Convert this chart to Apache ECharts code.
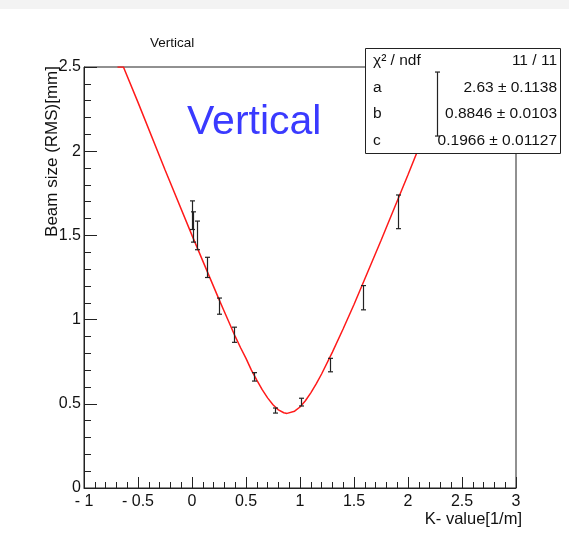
<!DOCTYPE html>
<html>
<head>
<meta charset="utf-8">
<script src="https://cdn.jsdelivr.net/npm/echarts@6/dist/echarts.min.js"></script>
<style>
	html, body { margin: 0; padding: 0; background: #fff; }
	#chart { width: 569px; height: 542px; }
</style>
</head>
<body>
<div id="chart"></div>
<script>
	// measured points (K value, beam size, error)
	var pointK = [0.00, 0.01, 0.05, 0.14, 0.25, 0.39, 0.57, 0.77, 1.01, 1.28, 1.58, 1.91, 2.27];
	var pointSigma = [1.62, 1.55, 1.50, 1.31, 1.08, 0.91, 0.66, 0.46, 0.51, 0.73, 1.13, 1.64, 2.28];
	var pointErr = [0.085, 0.09, 0.085, 0.06, 0.048, 0.045, 0.025, 0.015, 0.023, 0.04, 0.072, 0.10, 0.19];

	// fitted curve
	var curveK = [-0.69, -0.635, -0.5, -0.25, 0, 0.25, 0.3, 0.4, 0.45, 0.5, 0.55, 0.6, 0.65, 0.7, 0.75, 0.8, 0.85, 0.88, 0.95, 1.0, 1.05, 1.1, 1.15, 1.2, 1.3, 1.4, 1.5, 1.75, 2.0, 2.2, 2.4];
	var curveSigma = [2.5, 2.5, 2.29, 1.89, 1.50, 1.12, 1.047, 0.90, 0.833, 0.77, 0.70, 0.64, 0.584, 0.535, 0.494, 0.464, 0.447, 0.443, 0.456, 0.481, 0.518, 0.565, 0.618, 0.677, 0.807, 0.946, 1.09, 1.47, 1.86, 2.18, 2.5];

	// stats box
	var statNames = ['χ² / ndf', 'a', 'b', 'c'];
	var statValues = ['11 / 11', '2.63 ± 0.1138', '0.8846 ± 0.0103', '0.1966 ± 0.01127'];

	var font = '"Liberation Sans", Arial, sans-serif';

	var curveData = curveK.map(function(k, i) { return [k, curveSigma[i]]; });
	var pointData = pointK.map(function(k, i) { return [k, pointSigma[i], pointErr[i]]; });

	var statGraphics = [{
		type: 'rect',
		shape: { x: 365.5, y: 48.5, width: 195, height: 105 },
		style: { fill: '#fff', stroke: '#222', lineWidth: 1 },
		z: 10
	}];
	statNames.forEach(function(name, i) {
		var y = 61 + i * 26.5;
		statGraphics.push({
			type: 'text', x: 373, y: y, z: 11,
			style: { text: name, font: '15.5px ' + font, fill: '#111', textAlign: 'left', textVerticalAlign: 'middle' }
		});
		statGraphics.push({
			type: 'text', x: 557, y: y, z: 11,
			style: { text: statValues[i], font: '15.5px ' + font, fill: '#111', textAlign: 'right', textVerticalAlign: 'middle' }
		});
	});

	var myChart = echarts.init(document.getElementById('chart'));
	myChart.setOption({
		animation: false,
		backgroundColor: '#fff',
		grid: {
			left: 84, right: 53, top: 67, bottom: 54,
			show: true, borderColor: '#222', borderWidth: 1, backgroundColor: 'transparent'
		},
		xAxis: {
			type: 'value', min: -1, max: 3, interval: 0.5,
			axisLine: { show: true, onZero: false, lineStyle: { color: '#222', width: 1 } },
			axisTick: { show: true, inside: true, length: 11, lineStyle: { color: '#222' } },
			minorTick: { show: true, splitNumber: 5, length: 6, lineStyle: { color: '#222' } },
			splitLine: { show: false },
			axisLabel: {
				margin: 6, fontSize: 16, fontFamily: font, color: '#111',
				formatter: function(v) { return v < 0 ? '- ' + Math.abs(v) : String(v); }
			}
		},
		yAxis: {
			type: 'value', min: 0, max: 2.5, interval: 0.5,
			axisLine: { show: true, onZero: false, lineStyle: { color: '#222', width: 1 } },
			axisTick: { show: true, inside: true, length: 13, lineStyle: { color: '#222' } },
			minorTick: { show: true, splitNumber: 5, length: 7, lineStyle: { color: '#222' } },
			splitLine: { show: false },
			axisLabel: { margin: 3, fontSize: 16, fontFamily: font, color: '#111' }
		},
		graphic: [
			{ type: 'rect', shape: { x: 0, y: 0, width: 569, height: 9 }, style: { fill: '#f3f3f3' }, z: 0 },
			{
				type: 'text', x: 150, y: 43,
				style: { text: 'Vertical', font: '13.5px ' + font, fill: '#111', textVerticalAlign: 'middle' }
			},
			{
				type: 'text', x: 187, y: 123,
				style: { text: 'Vertical', font: '41px ' + font, fill: '#3a3aff', textVerticalAlign: 'middle' }
			},
			{
				type: 'text', x: 522, y: 519,
				style: { text: 'K- value[1/m]', font: '16.5px ' + font, fill: '#111', textAlign: 'right', textVerticalAlign: 'middle' }
			},
			{
				type: 'text', x: 52, y: 66, rotation: Math.PI / 2,
				style: { text: 'Beam size (RMS)[mm]', font: '17px ' + font, fill: '#111', textAlign: 'right', textVerticalAlign: 'middle' }
			}
		].concat(statGraphics),
		series: [{
			type: 'line',
			data: curveData,
			smooth: false,
			showSymbol: false,
			lineStyle: { color: '#ff1a1a', width: 1.5 },
			z: 2
		}, {
			type: 'custom',
			data: pointData,
			z: 20,
			renderItem: function(params, api) {
				var top = api.coord([api.value(0), api.value(1) + api.value(2)]);
				var bot = api.coord([api.value(0), api.value(1) - api.value(2)]);
				var x = Math.round(top[0]) + 0.5;
				var style = { stroke: '#222', lineWidth: 1.2 };
				return {
					type: 'group',
					children: [
						{ type: 'line', shape: { x1: x, y1: top[1], x2: x, y2: bot[1] }, style: style },
						{ type: 'line', shape: { x1: x - 2.5, y1: top[1], x2: x + 2.5, y2: top[1] }, style: style },
						{ type: 'line', shape: { x1: x - 2.5, y1: bot[1], x2: x + 2.5, y2: bot[1] }, style: style }
					]
				};
			}
		}]
	});
</script>
</body>
</html>
